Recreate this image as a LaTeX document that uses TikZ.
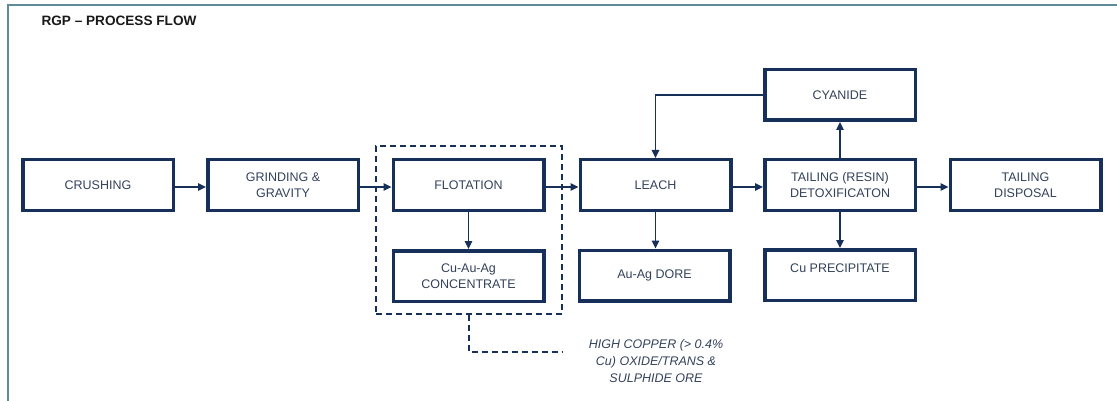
\documentclass[tikz,border=0pt]{standalone}
\usepackage{fontspec}
\setmainfont{Liberation Sans}
\usetikzlibrary{arrows.meta}
\definecolor{navy}{HTML}{17305A}
\definecolor{txt}{HTML}{33415A}
\definecolor{frame}{HTML}{5F8A98}
\begin{document}
\begin{tikzpicture}[x=1pt,y=-1pt,
  pbox/.style={draw=navy, line width=3.5pt, minimum width=150.5pt, minimum height=50.5pt,
    align=center, text=txt, font=\fontsize{12.5}{16.5}\selectfont, inner sep=0pt},
  flow/.style={draw=navy, line width=1.3pt, -{Triangle[length=8pt,width=7.5pt]}},
  dsh/.style={draw=navy, line width=1.3pt, dash pattern=on 6pt off 4pt}]
\useasboundingbox (0,0) rectangle (1117,401);
\draw[frame, line width=1.3pt] (8,401) -- (8,5) -- (1117,5);
\node[anchor=west, font=\bfseries\fontsize{13.6}{16}\selectfont, text=black!90] (title) at (38,21) {RGP – PROCESS FLOW};

\node[pbox] (crush) at (98,185) {CRUSHING};
\node[pbox] (grind) at (283,185) {GRINDING \&\\GRAVITY};
\node[pbox] (flot) at (468.5,185) {FLOTATION};
\node[pbox] (conc) at (468.5,276) {Cu-Au-Ag\\CONCENTRATE};
\node[pbox] (leach) at (655.5,185) {LEACH};
\node[pbox] (dore) at (654.5,275.5) {Au-Ag DORE};
\node[pbox] (cyan) at (840,95) {CYANIDE};
\node[pbox] (tail) at (840,185) {TAILING (RESIN)\\DETOXIFICATON};
\node[pbox, align=none, text height=9pt, text depth=14pt] (prec) at (840,275) {Cu PRECIPITATE};
\node[pbox] (disp) at (1025.5,185) {TAILING\\DISPOSAL};

\node[dsh, minimum width=186pt, minimum height=168pt, inner sep=0pt] (dbox) at (469,230) {};
\coordinate (dend) at (562,352);
\draw[dsh] (dbox.south) |- (dend);

\node[align=center, text=txt, font=\itshape\fontsize{12.5}{17}\selectfont] (note) at (656,361)
  {HIGH COPPER (> 0.4\%\\Cu) OXIDE/TRANS \&\\SULPHIDE ORE};

\draw[flow] ([yshift=-2pt]crush.east) -- ([yshift=-2pt]grind.west);
\draw[flow] ([yshift=-2pt]grind.east) -- ([yshift=-2pt]flot.west);
\draw[flow] ([yshift=-2pt]flot.east) -- ([yshift=-2pt]leach.west);
\draw[flow] ([yshift=-2pt]leach.east) -- ([yshift=-2pt]tail.west);
\draw[flow] ([yshift=-2pt]tail.east) -- ([yshift=-2pt]disp.west);
\draw[flow] (flot.south) -- (conc.north);
\draw[flow] (leach.south) -- (leach.south |- dore.north);
\draw[flow] (tail.north) -- (cyan.south);
\draw[flow] (tail.south) -- (prec.north);
\draw[flow] (cyan.west) -| (leach.north);
\end{tikzpicture}
\end{document}
